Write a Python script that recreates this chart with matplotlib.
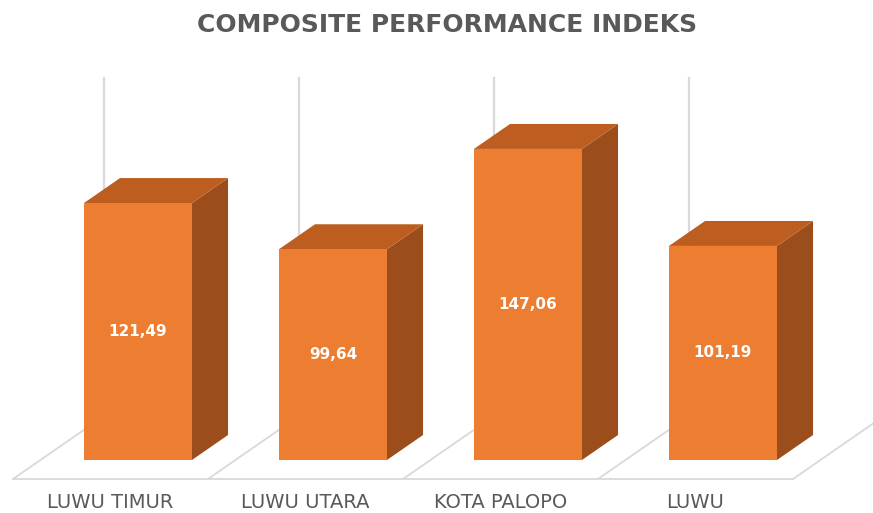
import matplotlib
matplotlib.use("Agg")
import matplotlib.pyplot as plt
from matplotlib.patches import Polygon

# data
categories = ["LUWU TIMUR", "LUWU UTARA", "KOTA PALOPO", "LUWU"]
values = [121.49, 99.64, 147.06, 101.19]
labels = ["121,49", "99,64", "147,06", "101,19"]

# oblique "3d" geometry, in data units (x: categories, y: value)
DX, DY = 0.4667, 29.8        # shift for full floor depth
Z_FRONT, Z_BACK = 0.302, 0.698
BAR_L, BAR_R = 0.223, 0.777
WALL_TOP = 160

FRONT = "#ED7D31"
TOP = "#BD5E20"
SIDE = "#9B4E1B"
GRID = "#D9D9D9"

fig = plt.figure(figsize=(8.73, 5.13), dpi=100)
ax = fig.add_axes([0, 0, 1, 1])
ax.set_xlim(-13 / 195, 860 / 195)
ax.set_ylim((479 - 513) / 2.115, 479 / 2.115)
ax.axis("off")

n = len(categories)

# floor and back wall gridlines
ax.plot([0, n], [0, 0], color=GRID, lw=1.3, zorder=1)
for i in range(n + 1):
    ax.plot([i, i + DX], [0, DY], color=GRID, lw=1.3, zorder=1)
    ax.plot([i + DX, i + DX], [DY, DY + WALL_TOP], color=GRID, lw=1.6, zorder=1)

bx = (Z_BACK - Z_FRONT) * DX
by = (Z_BACK - Z_FRONT) * DY
for i, v in enumerate(values):
    x0 = i + BAR_L + Z_FRONT * DX
    x1 = i + BAR_R + Z_FRONT * DX
    y0 = Z_FRONT * DY
    y1 = v + Z_FRONT * DY
    side = [(x1, y0), (x1 + bx, y0 + by), (x1 + bx, y1 + by), (x1, y1)]
    top = [(x0, y1), (x1, y1), (x1 + bx, y1 + by), (x0 + bx, y1 + by)]
    front = [(x0, y0), (x1, y0), (x1, y1), (x0, y1)]
    ax.add_patch(Polygon(side, closed=True, fc=SIDE, ec="none", zorder=2))
    ax.add_patch(Polygon(top, closed=True, fc=TOP, ec="none", zorder=2))
    ax.add_patch(Polygon(front, closed=True, fc=FRONT, ec="none", zorder=3))
    ax.text((x0 + x1) / 2, (y0 + y1) / 2, labels[i], color="white",
            fontsize=11, fontweight="bold", ha="center", va="center", zorder=4)
    ax.text(i + 0.5, -11.3, categories[i], color="#595959", fontsize=14,
            ha="center", va="center")

fig.text(0.512, 0.951, "COMPOSITE PERFORMANCE INDEKS", color="#595959",
         fontsize=18, fontweight="bold", ha="center", va="center")

fig.savefig("out.png", dpi=100)
